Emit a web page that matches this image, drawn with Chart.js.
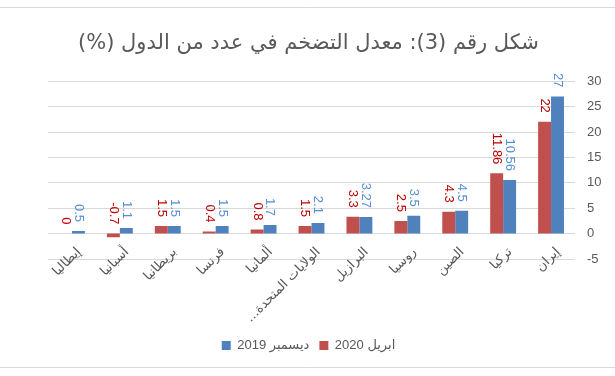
<!DOCTYPE html>
<html>
<head>
<meta charset="utf-8">
<script src="https://cdn.jsdelivr.net/npm/chart.js@4/dist/chart.umd.min.js"></script>
<style>
  html, body { margin: 0; padding: 0; background: #fff; }
  #wrap { width: 615px; height: 376px; position: relative; }
</style>
</head>
<body>
<div id="wrap"><canvas id="inflationChart" width="615" height="376"></canvas></div>
<script>
// categories (left to right as in the picture)
const countries = ['إيطاليا', 'أسبانيا', 'بريطانيا', 'فرنسا', 'ألمانيا', 'الولايات المتحدة...\u200F', 'البرازيل', 'روسيا', 'الصين', 'تركيا', 'إيران'];
// April 2020 (red) and December 2019 (blue)
const april2020 = [0, -0.7, 1.5, 0.4, 0.8, 1.5, 3.3, 2.5, 4.3, 11.86, 22];
const december2019 = [0.5, 1.1, 1.5, 1.5, 1.7, 2.1, 3.27, 3.5, 4.5, 10.56, 27];
// y axis
const yMin = -5;
const yMax = 30;
const yStep = 5;

const textGray = '#595959';
const gridGray = '#d9d9d9';

// draws the vertical value labels above each bar
const valueLabels = {
    id: 'valueLabels',
    afterDatasetsDraw(chart) {
        const ctx = chart.ctx;
        const zeroY = chart.scales.y.getPixelForValue(0);
        chart.data.datasets.forEach((ds, i) => {
            const meta = chart.getDatasetMeta(i);
            meta.data.forEach((bar, j) => {
                const top = Math.min(bar.y, zeroY);
                ctx.save();
                ctx.translate(bar.x, top - 9);
                ctx.rotate(Math.PI / 2);
                ctx.font = '13px "Liberation Sans", "DejaVu Sans"';
                ctx.fillStyle = ds.labelColor;
                ctx.textAlign = 'right';
                ctx.textBaseline = 'middle';
                ctx.fillText(String(ds.data[j]), 0, 0);
                ctx.restore();
            });
        });
    }
};

// slanted country names; they start just above the lowest grid line,
// which the axis' own (clipped) labels can't do
const categoryLabels = {
    id: 'categoryLabels',
    afterDraw(chart) {
        const ctx = chart.ctx;
        const xScale = chart.scales.x;
        const y = chart.scales.y.getPixelForValue(yMin) - 9;
        ctx.save();
        ctx.font = '13px "DejaVu Sans"';
        ctx.fillStyle = textGray;
        ctx.textAlign = 'right';
        ctx.textBaseline = 'middle';
        chart.data.labels.forEach((label, i) => {
            const x = xScale.getPixelForTick(i) + 7;
            ctx.save();
            ctx.translate(x, y);
            ctx.rotate(-Math.PI / 4);
            ctx.fillText(label, 0, 0);
            ctx.restore();
        });
        ctx.restore();
    }
};

// thin frame lines at top and bottom
const frameLines = {
    id: 'frameLines',
    beforeDraw(chart) {
        const ctx = chart.ctx;
        ctx.save();
        ctx.fillStyle = '#fff';
        ctx.fillRect(0, 0, chart.width, chart.height);
        ctx.strokeStyle = gridGray;
        ctx.lineWidth = 1;
        ctx.beginPath();
        ctx.moveTo(0, 7.5); ctx.lineTo(chart.width, 7.5);
        ctx.moveTo(0, 367.5); ctx.lineTo(chart.width, 367.5);
        ctx.stroke();
        ctx.restore();
    }
};

const ctx = document.getElementById('inflationChart').getContext('2d');
new Chart(ctx, {
    type: 'bar',
    data: {
        labels: countries,
        datasets: [
            {
                label: 'ابريل 2020',
                data: april2020,
                backgroundColor: '#c0504d',
                labelColor: '#c00000'
            },
            {
                label: 'ديسمبر 2019',
                data: december2019,
                backgroundColor: '#4f81bd',
                labelColor: '#558ed5'
            }
        ]
    },
    options: {
        responsive: false,
        animation: false,
        devicePixelRatio: 1,
        layout: { padding: { left: 10, right: 8, top: 0, bottom: 14 } },
        datasets: {
            bar: { barPercentage: 1, categoryPercentage: 0.54 }
        },
        plugins: {
            title: {
                display: true,
                text: 'شكل رقم (3): معدل التضخم في عدد من الدول (%)\u200F',
                color: textGray,
                font: { family: '"DejaVu Sans"', size: 21, weight: 'normal' },
                padding: { top: 31, bottom: 25 }
            },
            legend: {
                position: 'bottom',
                reverse: true,
                labels: {
                    color: textGray,
                    boxWidth: 9,
                    boxHeight: 9,
                    padding: 10,
                    font: { family: '"Liberation Sans", "DejaVu Sans"', size: 13 }
                }
            },
            tooltip: { enabled: false }
        },
        scales: {
            x: {
                grid: { display: false, drawTicks: false },
                border: { display: false },
                ticks: { display: false },
                afterFit(scale) { scale.height = 70; }
            },
            // empty spacer so the plot starts where the picture's does
            spacer: {
                position: 'left',
                display: true,
                grid: { display: false, drawTicks: false },
                border: { display: false },
                ticks: { display: false },
                afterFit(scale) { scale.width = 38; }
            },
            y: {
                position: 'right',
                min: yMin,
                max: yMax,
                grid: { color: gridGray, drawTicks: false },
                border: { display: false },
                ticks: {
                    stepSize: yStep,
                    color: textGray,
                    padding: 12,
                    font: { family: '"Liberation Sans"', size: 13 }
                },
                afterFit(scale) { scale.width = 32; }
            }
        }
    },
    plugins: [frameLines, valueLabels, categoryLabels]
});
</script>
</body>
</html>
